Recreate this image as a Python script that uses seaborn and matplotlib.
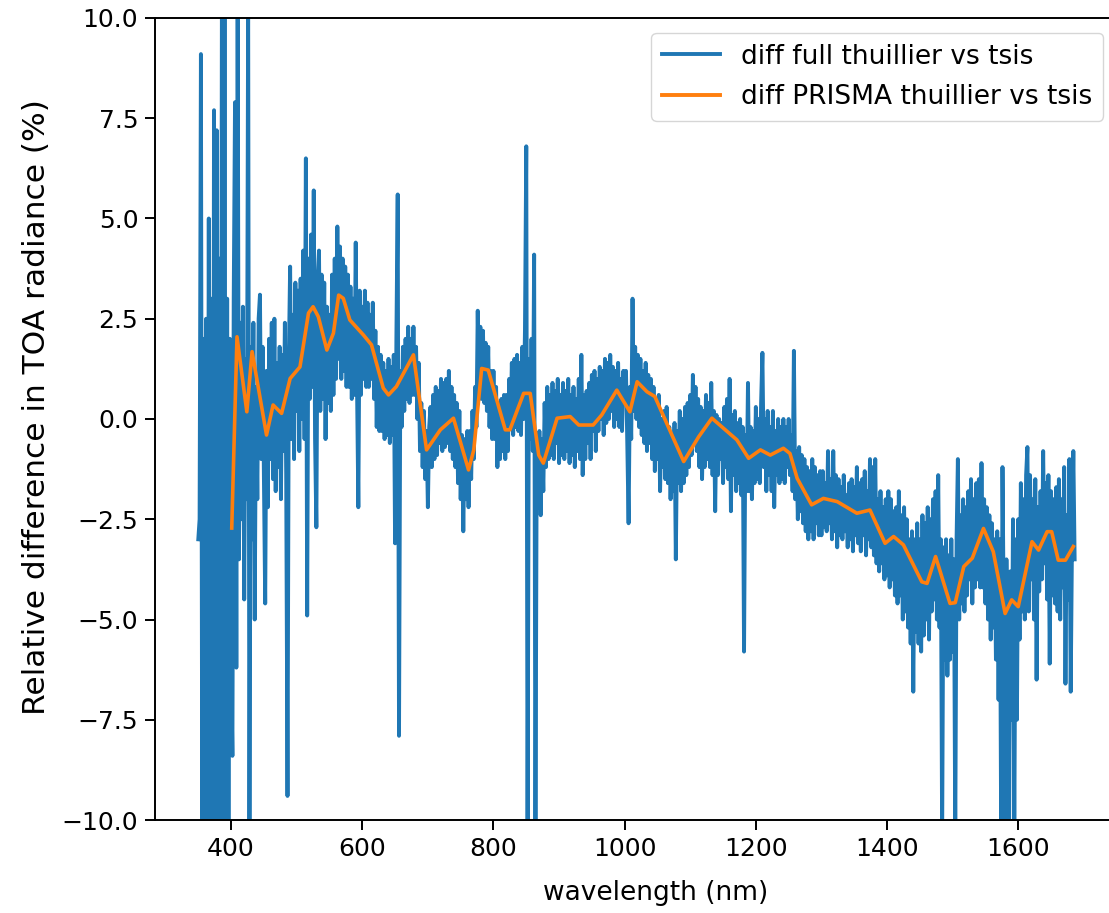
import numpy as np
import pandas as pd
import matplotlib
matplotlib.use("Agg")
import matplotlib.pyplot as plt
import seaborn as sns

# ---- data ----
# full-resolution difference, sampled every 2 nm, one block per 100 nm
step = 2
d350 = [-3.0, -2.5, 9.1, -10.5, 2.0, -10.5, 2.5, -10.5, 5.0, -10.5, 3.0, -10.5,
        7.7, -10.5, 7.2, -10.5, 4.0, -10.5, 10.5, -10.5, 10.5, -10.5, 3.0, -10.5, 2.0]
d400 = [-6.0, -8.4, 3.0, 7.9, -6.2, 10.5, -3.5, 2.4, -2.5, 2.8, -4.5, 1.5, -2.0,
        10.5, -10.5, 1.8, -3.0, 2.4, -5.0, 0.8, -2.0, 2.5, 3.1, -1.0, 1.8, -1.5,
        -4.6, 1.2, -2.2, 2.0, -1.0, 2.4, -1.5, 2.5, -1.8, 1.4, -1.2, 1.8, -2.0,
        1.6, -0.8, 2.4, -1.4, -9.4, 1.5, 3.8, -0.5, 2.6, -1.0, 3.4]
d500 = [0.2, 3.2, -0.8, 3.5, 0.0, 4.2, -0.5, 6.5, -4.9, 4.0, 0.5, 4.6, 0.8, 5.7,
        -0.5, -2.7, 3.5, 4.2, 0.2, 3.6, 0.5, 3.4, -0.5, 2.8, 0.4, 2.6, 0.2, 3.6,
        0.6, 4.0, 1.0, 4.8, 1.5, 4.3, 1.0, 4.0, 1.2, 3.8, 0.8, 3.6, 0.8, 3.3, 0.5,
        3.0, 0.6, 4.4, 0.8, -2.2, 3.2, 0.6]
d600 = [2.8, 1.0, 3.2, 0.8, 2.9, 0.8, 2.6, 1.0, 2.9, 0.5, 2.2, -0.2, 1.8, -0.3,
        1.6, -0.3, 1.4, -0.5, 1.2, -0.4, 1.5, -0.6, 1.3, -0.4, 1.6, -3.1, 2.0, 5.6,
        -7.9, 1.2, -0.2, 1.8, 0.2, 2.0, 0.5, 2.3, 0.4, 2.0, 0.6, 2.3, 0.6, 1.8,
        0.0, 1.4, -0.8, 0.4, -1.2, 0.2, -1.5, -0.3]
d700 = [-2.2, -0.2, 0.3, -1.2, 0.6, -1.0, 0.8, -0.9, 0.7, -0.6, 1.0, -0.8, 0.9,
        -0.7, 1.0, -0.6, 1.2, -0.8, 0.8, -1.0, 0.6, -1.2, 0.4, -1.6, 0.2, -2.0,
        -0.4, -2.8, -0.5, -2.0, -0.3, -2.2, -0.3, -1.5, 0.2, -1.0, 0.8, -0.2, 2.7,
        0.5, 2.3, 0.5, 2.2, 0.4, 1.9, 0.2, 1.8, -0.2, 1.2, -0.5]
d800 = [1.2, -0.5, 0.8, -1.2, 0.3, -1.0, 0.5, -0.8, 0.6, -1.0, 0.6, -0.8, 1.0,
        -0.2, 1.4, -0.4, 1.5, -0.2, 1.6, -0.3, 1.4, -0.4, 1.8, 0.0, 2.2, 6.8,
        -10.5, 1.5, -0.5, 2.0, -0.8, 4.1, -10.5, -0.5, -2.2, -0.3, -2.4, -0.5,
        -1.8, 0.4, -1.2, 0.8, -1.0, 0.6, -0.9, 0.9, -1.0, 0.7, -0.6, 1.0]
d900 = [-1.1, 0.6, -0.9, 0.9, -1.0, 0.7, -0.8, 1.0, -1.1, 0.6, -0.9, 0.8, -1.2,
        0.5, -0.8, 1.0, -1.0, 1.6, -1.4, 0.6, -1.0, 0.7, -0.6, 0.9, -1.0, 1.1,
        -0.3, 1.2, -0.8, 1.0, -0.3, 1.3, 0.0, 1.2, -0.4, 1.5, -0.1, 1.4, 0.0, 1.6,
        0.2, 1.3, -0.2, 1.2, 0.0, 1.4, -0.2, 1.0, -0.3, 1.2]
d1000 = [0.4, 1.2, -0.6, -2.6, 0.8, -0.5, 3.0, 0.2, 1.8, 0.0, 1.6, -0.2, 1.5,
         -0.4, 1.2, -0.6, 1.4, -0.8, 1.1, -0.6, 1.0, -1.0, 0.8, -1.3, 0.4, -1.0,
         0.6, -1.8, 0.0, -1.2, 0.2, -1.5, 0.3, -1.6, -0.2, -2.0, -0.4, -1.8, -0.1,
         -3.5, -0.3, -1.6, 0.2, -1.8, 0.0, -1.6, 0.3, -1.4, 0.4, -1.2]
d1100 = [0.6, -0.9, 1.1, -0.6, 0.8, -0.8, 0.5, -1.2, 0.3, -1.5, 0.2, -1.2, 0.6,
         -1.0, 0.4, -1.2, 0.9, -1.4, 0.2, -2.3, 0.1, -1.4, 0.0, -1.0, -0.1, -1.6,
         0.3, -1.2, 0.5, -1.5, 1.0, -2.3, 0.1, -1.4, 0.2, -1.8, -0.1, -1.6, 0.0,
         -1.9, -0.2, -5.8, -0.4, -1.8, 0.9, -1.8, -0.2, -2.0, -0.3, -1.6]
d1200 = [0.3, -1.5, 0.0, -1.6, 0.4, 1.65, -1.2, 0.0, -1.8, 0.2, -1.4, -0.2, -1.8,
         0.2, -2.2, -0.3, -1.4, 0.0, -1.6, -0.2, -1.5, 0.0, -1.6, -0.2, -1.2, 0.0,
         -1.4, -0.4, -1.8, 1.7, -2.0, -0.8, -2.5, -0.7, -2.3, -0.9, -2.6, -1.0,
         -2.8, -1.2, -3.0, -1.3, -2.8, -1.0, -3.0, -1.2, -2.6, -1.4, -2.9, -1.3]
d1300 = [-2.9, -1.3, -2.7, -1.6, -2.8, -0.8, -2.6, -1.5, -3.0, -0.8, -2.8, -1.4,
         -3.2, -1.5, -2.9, -1.7, -3.0, -1.4, -2.8, -1.9, -3.2, -1.6, -3.0, -1.5,
         -3.3, -1.7, -2.9, -1.2, -3.1, -1.6, -3.3, -1.5, -2.9, -1.3, -3.4, -1.8,
         -3.0, -1.0, -3.2, -1.2, -3.4, -1.0, -3.6, -2.0, -3.8, -1.8, -3.6, -2.2,
         -4.0, -2.0]
d1400 = [-3.9, -1.8, -4.2, -2.0, -4.0, -2.3, -4.4, -2.2, -4.6, -1.8, -4.4, -2.4,
         -5.0, -2.2, -4.8, -2.5, -5.2, -3.0, -5.6, -2.8, -6.8, -3.0, -5.3, -2.6,
         -5.6, -3.0, -5.8, -2.4, -5.4, -2.6, -5.0, -2.2, -5.5, -2.5, -4.8, -2.0,
         -4.5, -1.8, -5.0, -1.4, -5.2, -3.0, -10.5, -3.2, -6.0, -3.0, -6.4, -3.4,
         -6.0, -3.0]
d1500 = [-5.8, -3.5, -10.5, -3.0, -1.0, -5.0, -2.4, -4.6, -2.0, -4.8, -2.2, -4.4,
         -1.8, -4.0, -1.5, -4.6, -2.0, -4.2, -1.6, -4.0, -1.5, -4.2, -1.1, -4.2,
         -2.0, -4.6, -2.2, -5.0, -2.4, -5.5, -2.6, -5.2, -3.0, -6.0, -2.8, -7.0,
         -3.0, -10.5, -1.2, -5.0, -10.5, -3.5, -6.5, -10.5, -3.8, -7.5, -2.5,
         -10.5, -3.0, -7.5]
d1600 = [-2.5, -5.5, -1.6, -4.8, -2.0, -5.0, -1.4, -0.7, -4.8, -1.4, -4.0, -2.0,
         -5.0, -1.5, -6.5, -2.2, -4.3, -1.8, -4.0, -0.8, -3.6, -1.6, -4.5, -1.4,
         -6.1, -1.8, -4.4, -2.0, -4.6, -1.7, -4.8, -1.5, -5.0, -2.0, -4.2, -1.2,
         -6.6, -2.4, -4.5, -1.0, -6.8, -3.0, -0.8, -3.5]
full_blocks = [(350, d350), (400, d400), (500, d500), (600, d600), (700, d700),
               (800, d800), (900, d900), (1000, d1000), (1100, d1100),
               (1200, d1200), (1300, d1300), (1400, d1400), (1500, d1500),
               (1600, d1600)]

prisma_wl = [401, 409, 424, 432, 454, 464, 477, 490, 505, 518, 525, 533, 546,
             556, 564, 571, 581, 602, 614, 632, 640, 652, 678, 698, 719, 739,
             762, 770, 782, 792, 818, 825, 846, 856, 869, 876, 897, 917, 930,
             952, 965, 988, 1008, 1019, 1034, 1046, 1090, 1113, 1133, 1171,
             1189, 1207, 1222, 1242, 1252, 1263, 1285, 1303, 1324, 1354, 1374,
             1397, 1410, 1425, 1453, 1461, 1474, 1496, 1504, 1517, 1530, 1547,
             1562, 1580, 1590, 1600, 1621, 1631, 1644, 1651, 1661, 1672, 1684]
prisma_diff = [-2.72, 2.05, 0.18, 1.68, -0.40, 0.35, 0.14, 1.01, 1.30, 2.64,
               2.80, 2.55, 1.72, 2.14, 3.09, 3.01, 2.47, 2.09, 1.85, 0.77, 0.60,
               0.81, 1.60, -0.77, -0.27, 0.02, -1.27, -0.77, 1.26, 1.22, -0.27,
               -0.27, 0.64, 0.64, -0.90, -1.10, 0.02, 0.06, -0.15, -0.15, 0.10,
               0.72, 0.18, 0.93, 0.68, 0.56, -1.06, -0.44, 0.02, -0.52, -0.98,
               -0.77, -0.90, -0.73, -0.86, -1.48, -2.14, -1.98, -2.06, -2.35,
               -2.27, -3.10, -2.93, -3.14, -4.06, -4.10, -3.43, -4.60, -4.58,
               -3.68, -3.47, -2.73, -3.31, -4.85, -4.51, -4.68, -3.06, -3.27,
               -2.81, -2.81, -3.52, -3.52, -3.18]

labels = ["diff full thuillier vs tsis", "diff PRISMA thuillier vs tsis"]

full_wl, full_diff = [], []
for start, vals in full_blocks:
    full_wl.extend(start + step * i for i in range(len(vals)))
    full_diff.extend(vals)
df_full = pd.DataFrame({"wl": full_wl, "diff": full_diff})
df_prisma = pd.DataFrame({"wl": prisma_wl, "diff": prisma_diff})

plt.rcParams["font.family"] = ["DejaVu Sans"]

W, H = 1109, 913
fig = plt.figure(figsize=(W / 100, H / 100), dpi=100)
ax = fig.add_axes([155 / W, 1 - 820 / H, (1114 - 155) / W, (820 - 18) / H])

sns.lineplot(data=df_full, x="wl", y="diff", ax=ax, color="#1f77b4",
             linewidth=2.8, label=labels[0], estimator=None, sort=False)
sns.lineplot(data=df_prisma, x="wl", y="diff", ax=ax, color="#ff7f0e",
             linewidth=2.6, label=labels[1], estimator=None, sort=False)

ax.set_xlim(284, 1746)
ax.set_ylim(-10, 10)
ax.set_yticks([-10, -7.5, -5, -2.5, 0, 2.5, 5, 7.5, 10])
ax.set_yticklabels(["\u221210.0", "\u22127.5", "\u22125.0", "\u22122.5", "0.0",
                    "2.5", "5.0", "7.5", "10.0"])
ax.set_xticks([400, 600, 800, 1000, 1200, 1400, 1600])
ax.set_xlabel("wavelength (nm)", fontsize=19, labelpad=14)
ax.set_ylabel("Relative difference in TOA radiance (%)", fontsize=22.5, labelpad=8)
ax.xaxis.label.set_x((656 - 155) / 959)
ax.yaxis.label.set_y((820 - 407) / 802)
ax.tick_params(labelsize=18, length=7, width=1.4, pad=5)
for s in ax.spines.values():
    s.set_linewidth(1.4)

leg = ax.legend(loc="upper right", fontsize=19, handlelength=2.2,
                bbox_to_anchor=((1103 - 155) / 959, 1 - 15 / 802),
                borderaxespad=0.0, labelspacing=0.55)
for h in leg.get_lines():
    h.set_linewidth(2.8)

fig.savefig("out.png", dpi=100)
